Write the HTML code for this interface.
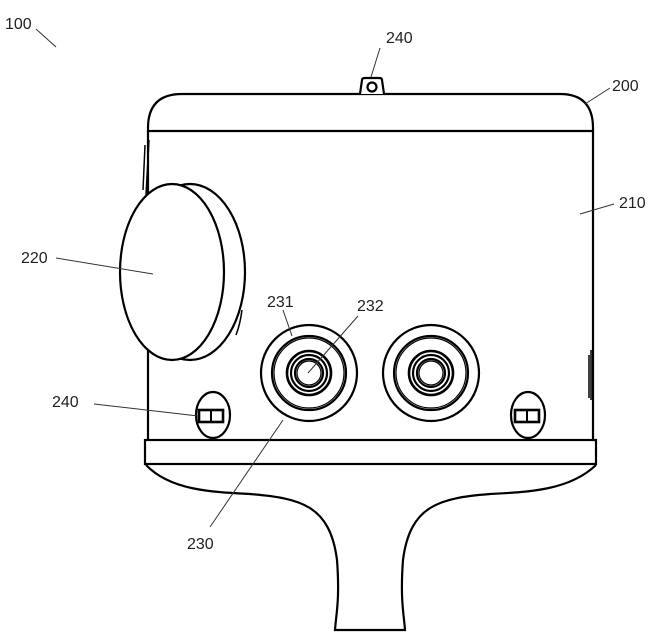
<!DOCTYPE html>
<html><head><style>html,body{margin:0;padding:0;background:#fff}svg{display:block}text{font-family:"Liberation Sans",sans-serif;font-size:16px;fill:#222}</style></head><body>
<svg width="660" height="643" viewBox="0 0 660 643" xmlns="http://www.w3.org/2000/svg">
<g fill="none" stroke="#000" stroke-width="2.2">
<!-- top cap -->
<path d="M148,131 L148,128 Q148,94 182,94 L560,94 Q593,94 593,128 L593,131 Z" fill="#fff"/>
<!-- body -->
<path d="M148,131 L148,440 M593,131 L593,440"/>
<!-- tab -->
<path d="M360,94 L362,80 Q362,78 365,78 L379,78 Q382,78 382,80 L384,94" fill="#fff"/>
<circle cx="372" cy="87" r="4.5"/>
<!-- base band -->
<rect x="145" y="440" width="451" height="24" fill="#fff"/>
<!-- neck -->
<path d="M146,465 C170,490 210,492 250,494 C300,498 330,505 337,560 C340,600 336,615 335,630 L405,630 C404,615 400,600 403,560 C410,505 440,498 490,494 C530,492 570,490 596,465"/>
<!-- disc -->
<path d="M145,145 L143,190 M149,140 L146,195" stroke-width="1.5"/>
<ellipse cx="190" cy="272" rx="55" ry="88" fill="#fff"/>
<ellipse cx="172" cy="272" rx="52" ry="88" fill="#fff"/>
<path d="M242,310 Q240,325 236,335" stroke-width="1.5"/>
<!-- fittings -->
<g transform="translate(309,373)">
<circle r="48"/><circle r="37"/><circle r="35" stroke-width="1.2"/><circle r="22" stroke-width="2.6"/><circle r="18"/><circle r="14"/><circle r="12" stroke-width="1.2"/>
</g>
<g transform="translate(431,373)">
<circle r="48"/><circle r="37"/><circle r="35" stroke-width="1.2"/><circle r="22" stroke-width="2.6"/><circle r="18"/><circle r="14"/><circle r="12" stroke-width="1.2"/>
</g>
<!-- ovals -->
<ellipse cx="213" cy="415" rx="17" ry="23"/>
<rect x="199" y="410" width="24" height="12" stroke-width="2.6"/><line x1="211" y1="410" x2="211" y2="422" stroke-width="2"/>
<ellipse cx="528" cy="415" rx="17" ry="23"/>
<rect x="515" y="410" width="24" height="12" stroke-width="2.6"/><line x1="527" y1="410" x2="527" y2="422" stroke-width="2"/>
<!-- right side notch -->
<path d="M589,355 L589,398 M591,350 L591,400" stroke-width="1.5"/>
</g>
<g stroke="#333" stroke-width="1" fill="none">
<line x1="36" y1="29" x2="56" y2="47"/>
<line x1="380" y1="48" x2="371" y2="77"/>
<line x1="610" y1="88" x2="585" y2="104"/>
<line x1="614" y1="204" x2="580" y2="214"/>
<line x1="56" y1="258" x2="153" y2="274"/>
<line x1="283" y1="310" x2="292" y2="336"/>
<line x1="358" y1="316" x2="308" y2="373"/>
<line x1="94" y1="404" x2="198" y2="416"/>
<line x1="283" y1="420" x2="210" y2="527"/>
</g>
<text x="5" y="29">100</text>
<text x="386" y="43">240</text>
<text x="612" y="91">200</text>
<text x="619" y="208">210</text>
<text x="21" y="263">220</text>
<text x="267" y="307">231</text>
<text x="357" y="311">232</text>
<text x="52" y="407">240</text>
<text x="187" y="549">230</text>
</svg>
</body></html>
